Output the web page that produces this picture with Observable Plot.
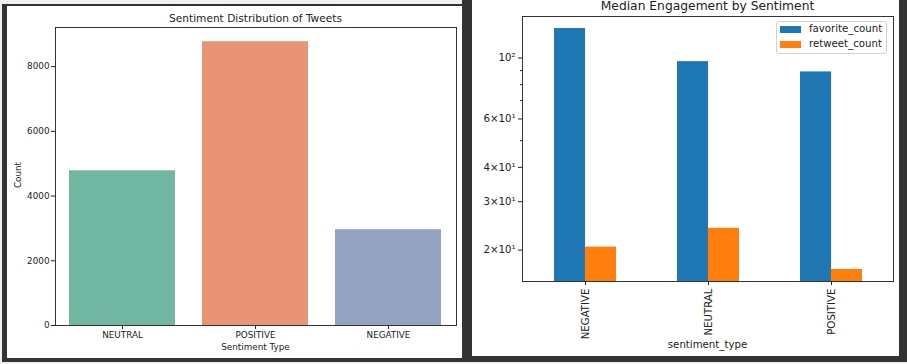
<!DOCTYPE html>
<html><head><meta charset="utf-8">
<script src="https://cdn.jsdelivr.net/npm/d3@7"></script>
<script src="https://cdn.jsdelivr.net/npm/@observablehq/plot@0.6"></script>
<style>
html,body{margin:0;padding:0;}
body{width:907px;height:364px;background:#f0f0f0;position:relative;overflow:hidden;font-family:"DejaVu Sans",sans-serif;color:#222;}
#dark{position:absolute;left:2px;top:0;width:905px;height:362px;background:#333;}
#lighttop{position:absolute;left:0;top:0;width:462px;height:4px;background:#f0f0f0;}
.panel{position:absolute;background:#fff;}
#left{left:7px;top:6px;width:455px;height:352px;}
#right{left:472px;top:0;width:427px;height:356px;}
.abs{position:absolute;white-space:nowrap;}
.panel svg{position:absolute;left:0;top:0;}
</style></head><body>
<div id="dark"></div>
<div id="lighttop"></div>
<div class="panel" id="left"></div>
<div class="panel" id="right"></div>
<script>
// ---- Left chart data ----
const sentimentOrder = ["NEUTRAL", "POSITIVE", "NEGATIVE"];
const sentimentCounts = [4780, 8770, 2960];
const sentimentColors = ["#71b6a1", "#e99575", "#95a3c3"];
const countTicks = [0, 2000, 4000, 6000, 8000];

// ---- Right chart data ----
const engagementCategories = ["NEGATIVE", "NEUTRAL", "POSITIVE"];
const favoriteMedians = [128, 97, 89];
const retweetMedians = [20.5, 24, 17];
const seriesNames = ["favorite_count", "retweet_count"];
const seriesColors = ["#1f77b4", "#ff7f0e"];
const logMajorTicks = [20, 30, 40, 60, 100];
const logTickLabels = ["2×10¹", "3×10¹", "4×10¹", "6×10¹", "10²"];
const logMinorTicks = [50, 70, 80, 90];

// ---- Left chart ----
const countData = sentimentOrder.map((s, i) => ({sentiment: s, count: sentimentCounts[i]}));
const LW = 455, LH = 352;
const leftPlot = Plot.plot({
  width: LW, height: LH, marginLeft: 48, marginRight: 6, marginTop: 21, marginBottom: 33,
  style: {fontFamily: "DejaVu Sans", fontSize: "8.8px", color: "#222", background: "transparent"},
  x: {domain: sentimentOrder, paddingInner: 0.2, paddingOuter: 0.1},
  y: {domain: [0, d3.max(sentimentCounts) * 1.05]},
  color: {domain: sentimentOrder, range: sentimentColors},
  marks: [
    Plot.barY(countData, {x: "sentiment", y: "count", fill: "sentiment"}),
    Plot.frame({stroke: "#333", strokeWidth: 1}),
    Plot.axisY({ticks: countTicks, tickSize: 4, tickPadding: 2, label: null, tickFormat: d => String(d)}),
    Plot.axisX({tickSize: 4, tickPadding: 2, label: null})
  ]
});
const leftEl = document.getElementById("left");
leftEl.appendChild(leftPlot);
leftEl.insertAdjacentHTML("beforeend",
  `<div class="abs" style="left:48px;width:401px;top:6px;text-align:center;font-size:10.6px;line-height:12px;">Sentiment Distribution of Tweets</div>
   <div class="abs" style="left:48px;width:401px;top:336px;text-align:center;font-size:8.8px;line-height:10px;">Sentiment Type</div>
   <div class="abs" style="left:-14px;top:164px;width:50px;text-align:center;font-size:8.8px;line-height:10px;transform:rotate(-90deg);">Count</div>`);

// ---- Right chart ----
const RW = 427, RH = 356, RML = 50, RMR = 6;
const engagementRows = engagementCategories.flatMap((c, i) => [
  {sentiment: c, series: seriesNames[0], value: favoriteMedians[i]},
  {sentiment: c, series: seriesNames[1], value: retweetMedians[i]}
]);
const allVals = favoriteMedians.concat(retweetMedians);
const lmin = Math.log10(d3.min(allVals)), lmax = Math.log10(d3.max(allVals));
const lpad = (lmax - lmin) * 0.05;
const yDomain = [10 ** (lmin - lpad), 10 ** (lmax + lpad)];
const step = (RW - RML - RMR) / engagementCategories.length;
const half = step * 0.25;
const rightPlot = Plot.plot({
  width: RW, height: RH, marginLeft: RML, marginRight: RMR, marginTop: 16, marginBottom: 75,
  style: {fontFamily: "DejaVu Sans", fontSize: "10.2px", color: "#222", background: "transparent"},
  x: {domain: engagementCategories, paddingInner: 0.5, paddingOuter: 0.25},
  y: {type: "log", domain: yDomain},
  marks: [
    Plot.barY(engagementRows.filter(d => d.series === seriesNames[0]),
      {x: "sentiment", y1: () => yDomain[0], y2: "value", fill: seriesColors[0], insetRight: half}),
    Plot.barY(engagementRows.filter(d => d.series === seriesNames[1]),
      {x: "sentiment", y1: () => yDomain[0], y2: "value", fill: seriesColors[1], insetLeft: half}),
    Plot.frame({stroke: "#333", strokeWidth: 1}),
    Plot.axisY({ticks: logMajorTicks, tickFormat: d => logTickLabels[logMajorTicks.indexOf(d)], tickSize: 4, tickPadding: 3, label: null}),
    Plot.axisY({ticks: logMinorTicks, tickFormat: () => "", tickSize: 2, label: null}),
    Plot.axisX({tickSize: 4, tickPadding: 3, tickRotate: -90, label: null})
  ]
});
const rightEl = document.getElementById("right");
rightEl.appendChild(rightPlot);
rightEl.insertAdjacentHTML("beforeend",
  `<div class="abs" style="left:${RML}px;width:${RW - RML - RMR}px;top:-1px;text-align:center;font-size:12.3px;line-height:14px;">Median Engagement by Sentiment</div>
   <div class="abs" style="left:${RML}px;width:${RW - RML - RMR}px;top:339px;text-align:center;font-size:10.2px;line-height:12px;">sentiment_type</div>
   <div class="abs" style="left:304px;top:21px;width:109px;height:31px;border:1px solid #d0d0d0;border-radius:3px;background:rgba(255,255,255,0.8);font-size:10.2px;">
     ${seriesNames.map((n, i) => `<div class="abs" style="left:3px;top:${4 + i * 15}px;width:21px;height:7px;background:${seriesColors[i]};"></div>
     <div class="abs" style="left:32px;top:${i * 15 + 1}px;line-height:12px;">${n}</div>`).join("")}
   </div>`);
</script>
</body></html>
